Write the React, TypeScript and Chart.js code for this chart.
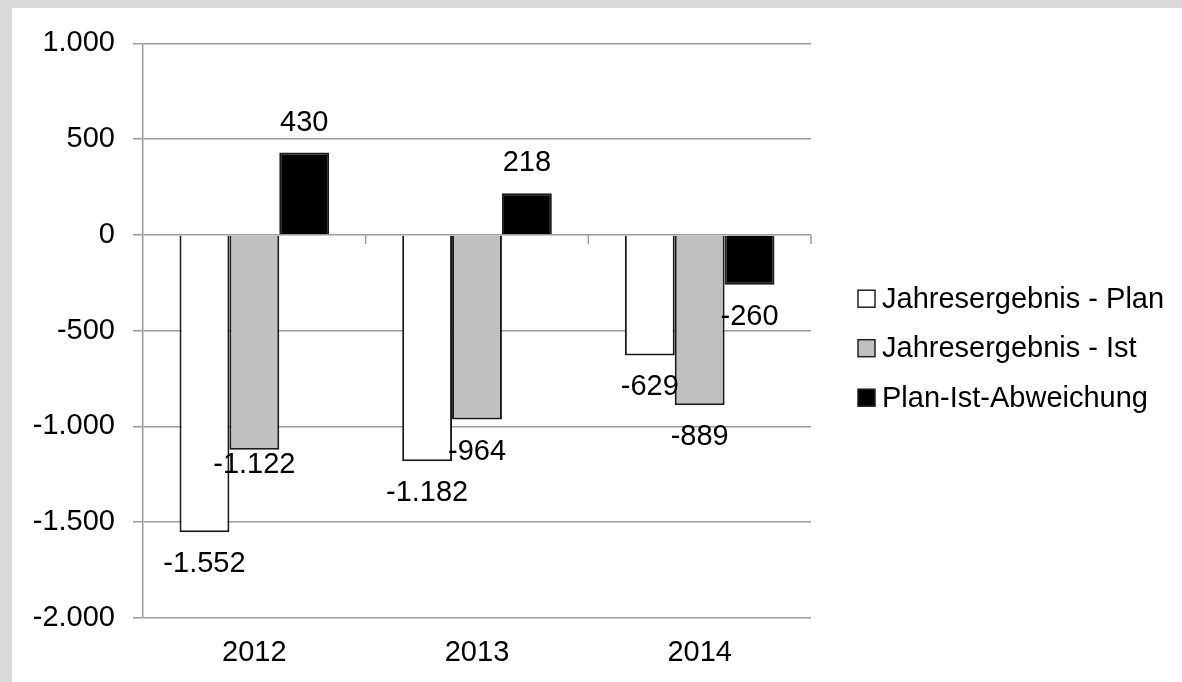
import React, { useEffect, useRef } from "react";
import { Chart, registerables } from "chart.js";

Chart.register(...registerables);

const categories = ["2012", "2013", "2014"];
const seriesNames = ["Jahresergebnis - Plan", "Jahresergebnis - Ist", "Plan-Ist-Abweichung"];
const planValues = [-1552, -1182, -629];
const istValues = [-1122, -964, -889];
const devValues = [430, 218, -260];
const yMin = -2000;
const yMax = 1000;
const yStep = 500;

const FONT = '"Liberation Sans", Arial, sans-serif';
const GRID = "#9c9c9c";
const fills = ["#ffffff", "#c0c0c0", "#000000"];

function formatDE(v: number): string {
  const s = Math.round(Math.abs(v)).toString().replace(/\B(?=(\d{3})+(?!\d))/g, ".");
  return (v < 0 ? "-" : "") + s;
}

// small manual nudges of individual value labels (dataset-index) as in the original
const labelNudge: Record<string, number> = { "1-0": -17 };

const valueLabels = {
  id: "valueLabels",
  afterDatasetsDraw(chart: any) {
    const ctx = chart.ctx;
    ctx.save();
    ctx.font = `29px ${FONT}`;
    ctx.fillStyle = "#000";
    ctx.textAlign = "center";
    ctx.textBaseline = "middle";
    chart.data.datasets.forEach((ds: any, di: number) => {
      const meta = chart.getDatasetMeta(di);
      meta.data.forEach((bar: any, i: number) => {
        const v = ds.data[i] as number;
        const nudge = labelNudge[`${di}-${i}`] || 0;
        const y = v >= 0 ? bar.y - 30 : bar.y + 32 + nudge;
        ctx.fillText(formatDE(v), bar.x, y);
      });
    });
    ctx.restore();
  },
};

const zeroTicks = {
  id: "zeroTicks",
  beforeDatasetsDraw(chart: any) {
    const { ctx, chartArea } = chart;
    const y0 = chart.scales.y.getPixelForValue(0);
    const n = chart.data.labels.length;
    const w = (chartArea.right - chartArea.left) / n;
    ctx.save();
    ctx.strokeStyle = GRID;
    ctx.lineWidth = 1.5;
    for (let k = 1; k <= n; k++) {
      const x = chartArea.left + k * w;
      ctx.beginPath();
      ctx.moveTo(x, y0);
      ctx.lineTo(x, y0 + 9);
      ctx.stroke();
    }
    ctx.restore();
  },
};

const customLegend = {
  id: "customLegend",
  afterDraw(chart: any) {
    const { ctx, chartArea } = chart;
    const midY = (chartArea.top + chartArea.bottom) / 2 + 17.5;
    const bx = chartArea.right + 47;
    ctx.save();
    ctx.font = `29px ${FONT}`;
    ctx.textAlign = "left";
    ctx.textBaseline = "middle";
    chart.data.datasets.forEach((ds: any, i: number) => {
      const cy = midY + (i - 1) * 49.5;
      ctx.fillStyle = ds.backgroundColor;
      ctx.fillRect(bx, cy - 8.5, 17, 17);
      ctx.strokeStyle = "#222";
      ctx.lineWidth = 1.5;
      ctx.strokeRect(bx, cy - 8.5, 17, 17);
      ctx.fillStyle = "#000";
      ctx.fillText(ds.label, bx + 24, cy + 1);
    });
    ctx.restore();
  },
};

export default function App() {
  const ref = useRef<HTMLCanvasElement>(null);
  useEffect(() => {
    if (!ref.current) return;
    const series = [planValues, istValues, devValues];
    const chart = new Chart(ref.current, {
      type: "bar",
      data: {
        labels: categories,
        datasets: series.map((d, i) => ({
          label: seriesNames[i],
          data: d,
          backgroundColor: fills[i],
          borderColor: "#1a1a1a",
          borderWidth: 2,
          categoryPercentage: 0.672,
          barPercentage: 1,
        })),
      },
      options: {
        responsive: false,
        animation: false,
        layout: { padding: { top: 34, left: 0, right: 371, bottom: 0 } },
        plugins: { legend: { display: false }, tooltip: { enabled: false } },
        scales: {
          x: {
            grid: { display: false, drawTicks: false },
            border: { display: false },
            ticks: { padding: 18, color: "#000", font: { size: 29, family: FONT } },
            afterFit: (s: any) => {
              s.height = 64;
            },
          },
          y: {
            min: yMin,
            max: yMax,
            ticks: {
              stepSize: yStep,
              padding: 18,
              color: "#000",
              font: { size: 29, family: FONT },
              callback: (v: any) => formatDE(Number(v)),
            },
            grid: { color: GRID, lineWidth: 1.5, tickLength: 10, drawTicks: true },
            border: { display: true, color: GRID, width: 1.5 },
            afterFit: (s: any) => {
              s.width = 131;
            },
          },
        },
      } as any,
      plugins: [zeroTicks, valueLabels, customLegend],
    });
    return () => chart.destroy();
  }, []);

  return (
    <div style={{ position: "fixed", inset: 0, background: "#d9d9d9" }}>
      <div style={{ position: "absolute", left: 12, top: 8, width: 1170, height: 674, background: "#fff" }}>
        <canvas ref={ref} width={1170} height={674} style={{ display: "block" }} />
      </div>
    </div>
  );
}
